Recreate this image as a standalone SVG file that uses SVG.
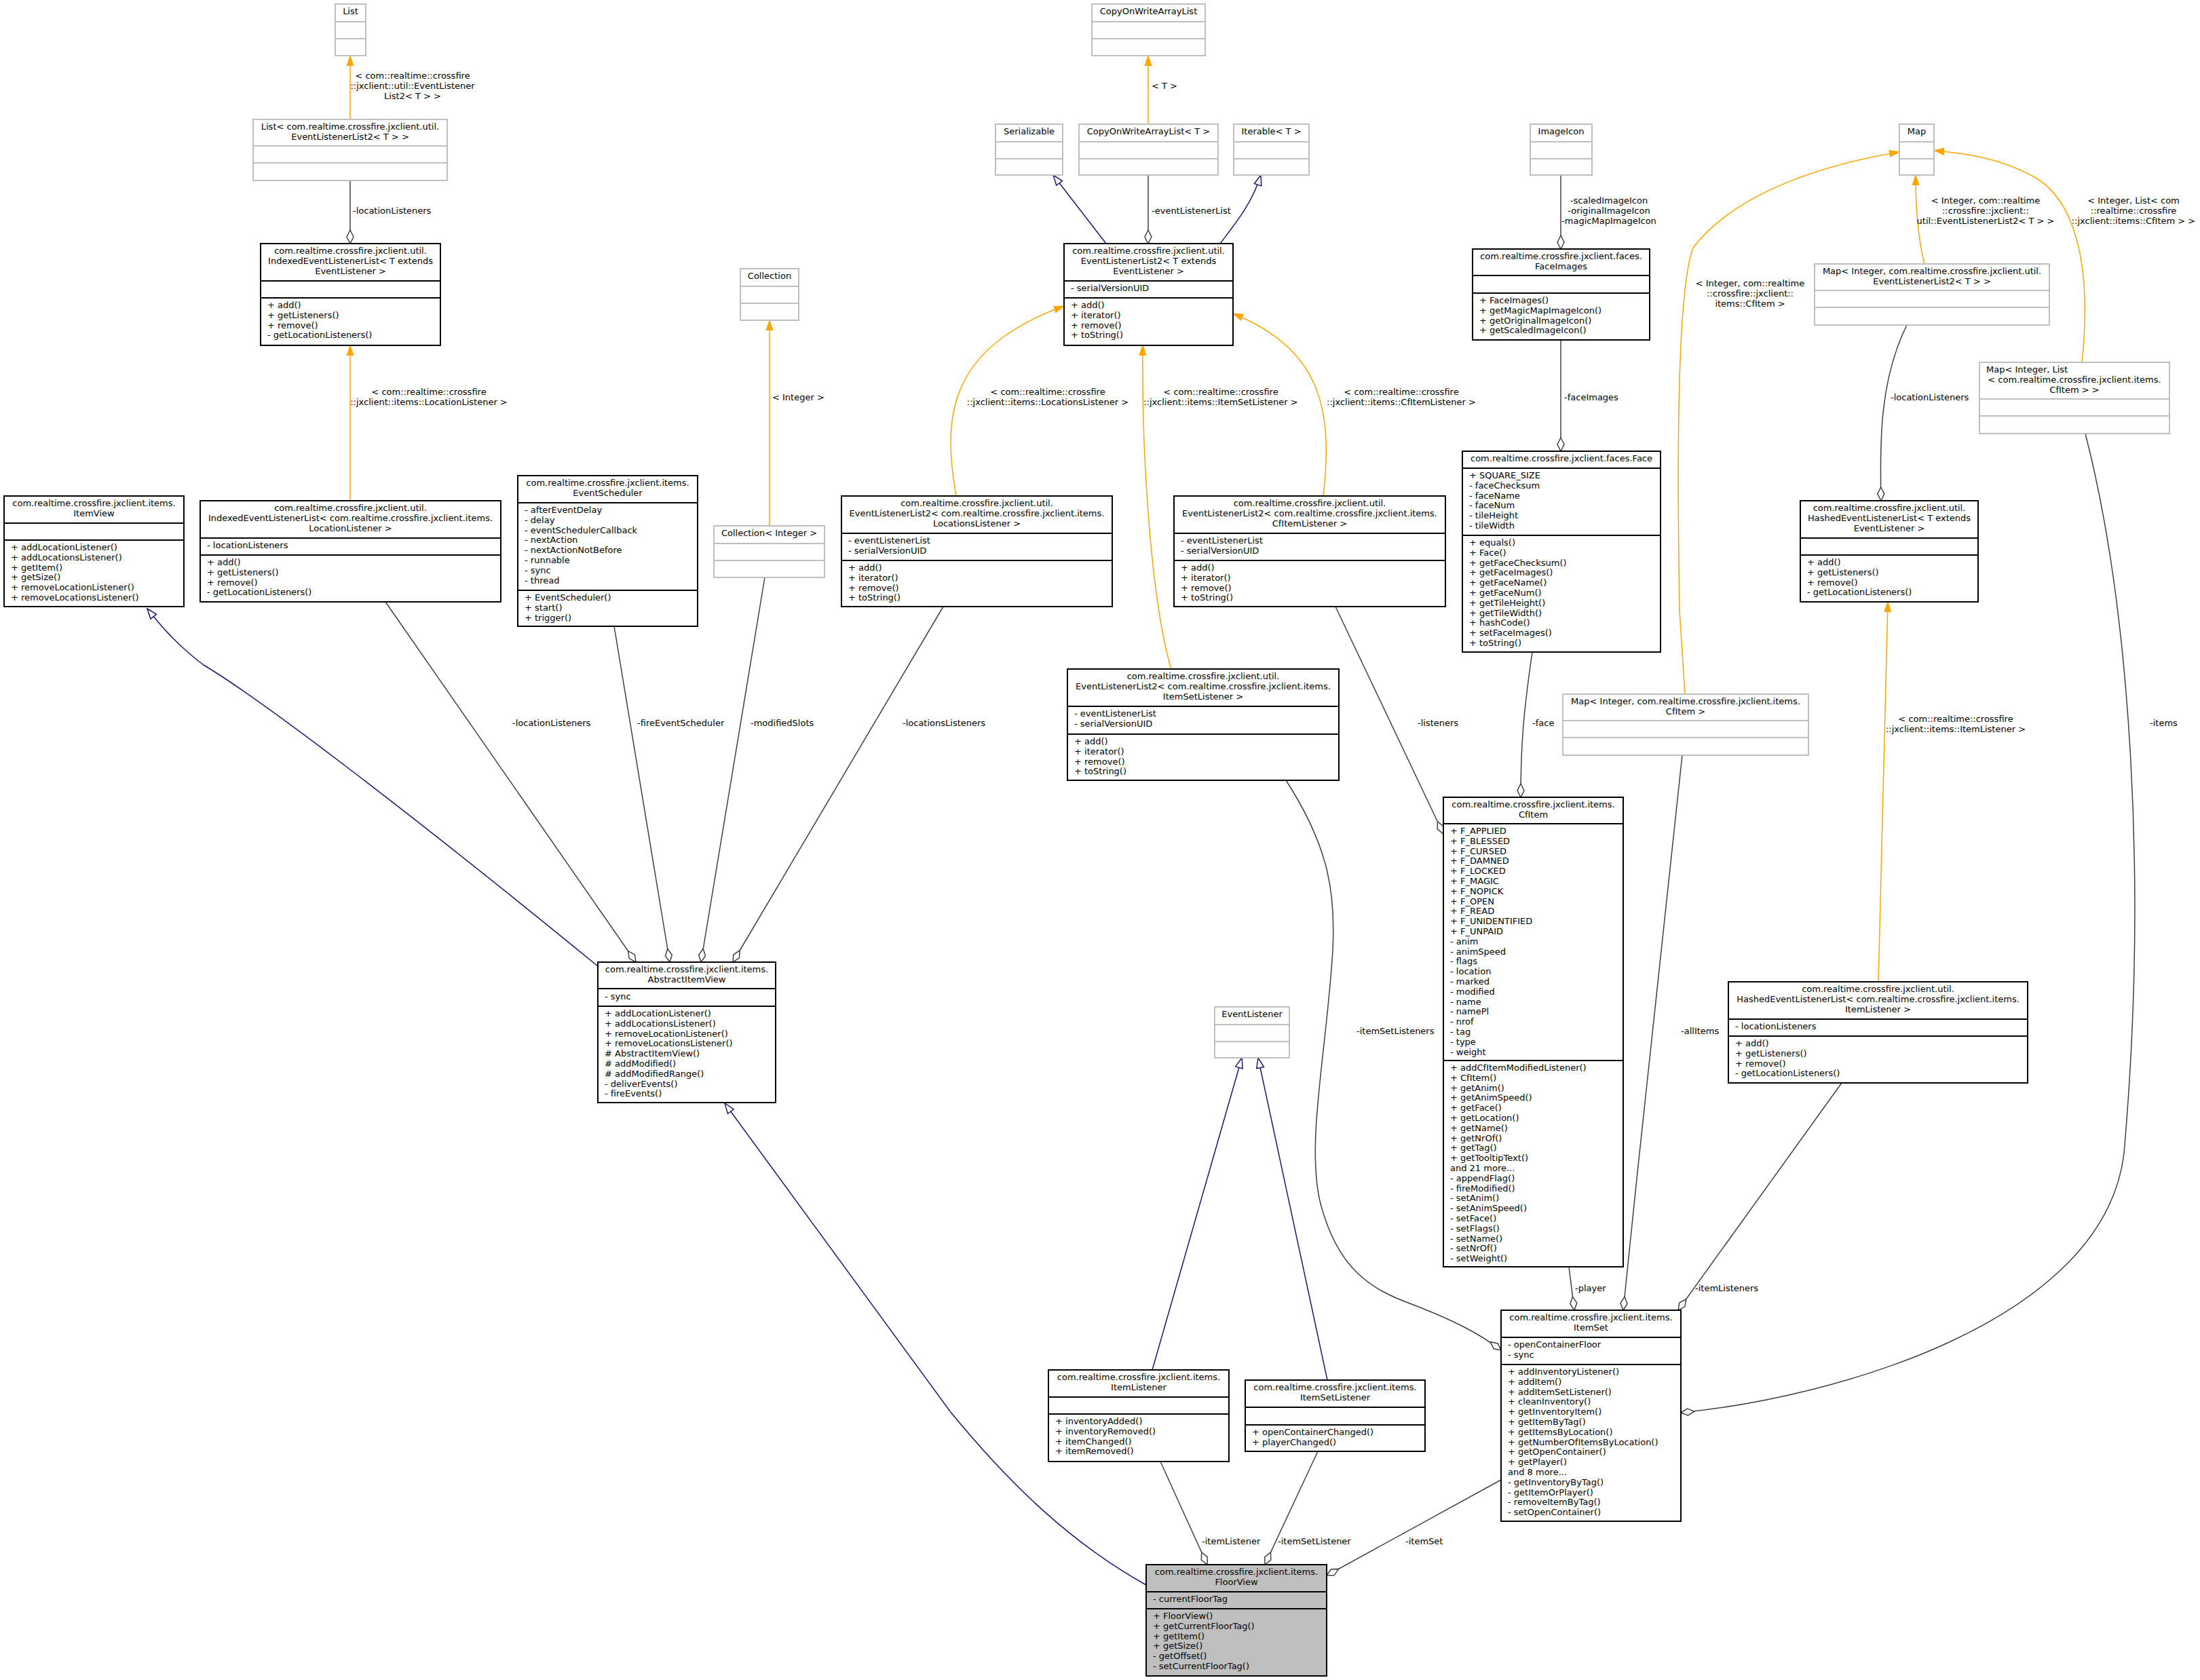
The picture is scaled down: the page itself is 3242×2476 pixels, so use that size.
<svg xmlns="http://www.w3.org/2000/svg" width="3242" height="2476" viewBox="0 0 3242 2476">
<style>
text{font-family:"DejaVu Sans","Liberation Sans",sans-serif;font-size:13px;fill:#000}
.c{text-anchor:middle}
.b{fill:#fff;stroke:#000;stroke-width:2}
.g{fill:#fff;stroke:#bfbfbf;stroke-width:2}
.f{fill:#bfbfbf;stroke:#000;stroke-width:2}
.sb{stroke:#000;stroke-width:2}
.sg{stroke:#bfbfbf;stroke-width:2}
.ag{fill:none;stroke:#404040;stroke-width:1.5;marker-end:url(#dia)}
.or{fill:none;stroke:#ffa500;stroke-width:1.5;marker-end:url(#oa)}
.bl{fill:none;stroke:#191970;stroke-width:1.5;marker-end:url(#ba)}
</style>
<defs>
<marker id="dia" markerUnits="userSpaceOnUse" markerWidth="22" markerHeight="12" viewBox="0 0 22 12" refX="21" refY="6" orient="auto"><path d="M1,6 L11,1 L21,6 L11,11 Z" fill="#fff" stroke="#404040" stroke-width="1.5"/></marker>
<marker id="oa" markerUnits="userSpaceOnUse" markerWidth="16" markerHeight="12" viewBox="0 0 16 12" refX="15" refY="6" orient="auto"><path d="M0,1 L15,6 L0,11 Z" fill="#ffa500" stroke="#ffa500"/></marker>
<marker id="ba" markerUnits="userSpaceOnUse" markerWidth="17" markerHeight="13" viewBox="0 0 17 13" refX="16" refY="6.5" orient="auto"><path d="M1,1 L16,6.5 L1,12 Z" fill="#fff" stroke="#191970" stroke-width="1.5"/></marker>
</defs>

<g id="edges">
<path class="or" d="M516,176 L516,82"/>
<path class="ag" d="M516,266 L516,359"/>
<path class="or" d="M516,738 L516,509"/>
<path class="or" d="M1134,775 L1134,472"/>
<path class="or" d="M1692,183 L1692,82"/>
<path class="bl" d="M1630,359 L1552,258"/>
<path class="ag" d="M1692,258 L1692,359"/>
<path class="bl" d="M1798,359 C1820,330 1845,300 1858,258"/>
<path class="or" d="M1409,731 C1390,620 1392,515 1568,451"/>
<path class="or" d="M1950,731 C1965,600 1945,515 1817,462"/>
<path class="or" d="M1726,986 C1700,900 1682,700 1684,509"/>
<path class="ag" d="M2300,258 L2300,367"/>
<path class="ag" d="M2300,501 L2300,665"/>
<path class="or" d="M2836,389 C2826,350 2823,300 2823,258"/>
<path class="or" d="M3068,534 C3082,400 3062,300 3000,262 C2950,234 2900,226 2850,222"/>
<path class="ag" d="M2810,479 C2770,560 2770,650 2772,738"/>
<path class="or" d="M2483,1023 L2475,900 C2470,600 2475,420 2495,365 C2560,280 2700,240 2799,224"/>
<path class="or" d="M2768,1447 L2782,887"/>
<path class="ag" d="M2258,961 C2245,1050 2241,1100 2241,1175"/>
<path class="ag" d="M1968,894 L2127,1229"/>
<path class="bl" d="M881,1424 C650,1235 400,1040 300,980 C260,950 235,920 217,897"/>
<path class="ag" d="M568,887 L937,1418"/>
<path class="ag" d="M905,923 L987,1418"/>
<path class="ag" d="M1127,851 L1033,1418"/>
<path class="ag" d="M1390,894 L1080,1418"/>
<path class="bl" d="M1689,2336 C1580,2275 1490,2190 1400,2080 L1068,1626"/>
<path class="bl" d="M1698,2019 L1830,1559"/>
<path class="bl" d="M1956,2034 L1854,1559"/>
<path class="ag" d="M1710,2154 L1779,2306"/>
<path class="ag" d="M1942,2139 L1864,2306"/>
<path class="ag" d="M2212,2181 L1955,2322"/>
<path class="ag" d="M1895,1150 C1960,1250 1968,1320 1964,1400 C1955,1550 1925,1680 1945,1770 C1970,1870 2020,1900 2080,1922 C2140,1945 2180,1965 2212,1990"/>
<path class="ag" d="M2312,1867 L2320,1931"/>
<path class="ag" d="M2479,1113 C2455,1350 2420,1650 2392,1931"/>
<path class="ag" d="M2714,1596 L2473,1931"/>
<path class="ag" d="M3073,639 C3140,900 3165,1300 3130,1700 C3100,1950 2700,2060 2477,2082"/>
<text x="608" y="116" class="c">&lt; com::realtime::crossfire</text>
<text x="608" y="131" class="c">::jxclient::util::EventListener</text>
<text x="608" y="146" class="c">List2&lt; T &gt; &gt;</text>
<text x="520" y="315">-locationListeners</text>
<text x="632" y="582" class="c">&lt; com::realtime::crossfire</text>
<text x="632" y="597" class="c">::jxclient::items::LocationListener &gt;</text>
<text x="1138" y="590">&lt; Integer &gt;</text>
<text x="1697" y="131">&lt; T &gt;</text>
<text x="1697" y="315">-eventListenerList</text>
<text x="1544" y="582" class="c">&lt; com::realtime::crossfire</text>
<text x="1544" y="597" class="c">::jxclient::items::LocationsListener &gt;</text>
<text x="1799" y="582" class="c">&lt; com::realtime::crossfire</text>
<text x="1799" y="597" class="c">::jxclient::items::ItemSetListener &gt;</text>
<text x="2065" y="582" class="c">&lt; com::realtime::crossfire</text>
<text x="2065" y="597" class="c">::jxclient::items::CfItemListener &gt;</text>
<text x="2371" y="300" class="c">-scaledImageIcon</text>
<text x="2371" y="315" class="c">-originalImageIcon</text>
<text x="2371" y="330" class="c">-magicMapImageIcon</text>
<text x="2305" y="590">-faceImages</text>
<text x="2926" y="300" class="c">&lt; Integer, com::realtime</text>
<text x="2926" y="315" class="c">::crossfire::jxclient::</text>
<text x="2926" y="330" class="c">util::EventListenerList2&lt; T &gt; &gt;</text>
<text x="3144" y="300" class="c">&lt; Integer, List&lt; com</text>
<text x="3144" y="315" class="c">::realtime::crossfire</text>
<text x="3144" y="330" class="c">::jxclient::items::CfItem &gt; &gt;</text>
<text x="2579" y="422" class="c">&lt; Integer, com::realtime</text>
<text x="2579" y="437" class="c">::crossfire::jxclient::</text>
<text x="2579" y="452" class="c">items::CfItem &gt;</text>
<text x="2786" y="590">-locationListeners</text>
<text x="2089" y="1070">-listeners</text>
<text x="2258" y="1070">-face</text>
<text x="3168" y="1070">-items</text>
<text x="2882" y="1064" class="c">&lt; com::realtime::crossfire</text>
<text x="2882" y="1079" class="c">::jxclient::items::ItemListener &gt;</text>
<text x="755" y="1070">-locationListeners</text>
<text x="939" y="1070">-fireEventScheduler</text>
<text x="1106" y="1070">-modifiedSlots</text>
<text x="1330" y="1070">-locationsListeners</text>
<text x="1999" y="1524">-itemSetListeners</text>
<text x="2477" y="1524">-allItems</text>
<text x="2321" y="1903">-player</text>
<text x="2498" y="1903">-itemListeners</text>
<text x="1771" y="2276">-itemListener</text>
<text x="1883" y="2276">-itemSetListener</text>
<text x="2071" y="2276">-itemSet</text>
</g>

<g id="List"><rect class="g" x="494" y="6" width="45" height="76"/><line class="sg" x1="494" y1="32" x2="539" y2="32"/><line class="sg" x1="494" y1="57" x2="539" y2="57"/><text class="c" x="516.5" y="21">List</text></g>

<g id="ListELL2"><rect class="g" x="373" y="176" width="286" height="90"/><line class="sg" x1="373" y1="215" x2="659" y2="215"/><line class="sg" x1="373" y1="240" x2="659" y2="240"/><text class="c" x="516" y="191">List&lt; com.realtime.crossfire.jxclient.util.</text><text class="c" x="516" y="206">EventListenerList2&lt; T &gt; &gt;</text></g>

<g id="IELL"><rect class="b" x="384" y="359" width="265" height="150"/><line class="sb" x1="384" y1="414" x2="649" y2="414"/><line class="sb" x1="384" y1="439" x2="649" y2="439"/><text class="c" x="516.5" y="374">com.realtime.crossfire.jxclient.util.</text><text class="c" x="516.5" y="389">IndexedEventListenerList&lt; T extends</text><text class="c" x="516.5" y="404">EventListener &gt;</text><text x="394" y="454">+ add()<tspan x="394" dy="14.8">+ getListeners()</tspan><tspan x="394" dy="14.8">+ remove()</tspan><tspan x="394" dy="14.8">- getLocationListeners()</tspan></text></g>

<g id="IELLLoc"><rect class="b" x="295" y="738" width="443" height="149"/><line class="sb" x1="295" y1="793" x2="738" y2="793"/><line class="sb" x1="295" y1="818" x2="738" y2="818"/><text class="c" x="516.5" y="753">com.realtime.crossfire.jxclient.util.</text><text class="c" x="516.5" y="768">IndexedEventListenerList&lt; com.realtime.crossfire.jxclient.items.</text><text class="c" x="516.5" y="783">LocationListener &gt;</text><text x="305" y="808">- locationListeners</text><text x="305" y="833">+ add()<tspan x="305" dy="14.8">+ getListeners()</tspan><tspan x="305" dy="14.8">+ remove()</tspan><tspan x="305" dy="14.8">- getLocationListeners()</tspan></text></g>

<g id="ItemView"><rect class="b" x="6" y="731" width="265" height="163"/><line class="sb" x1="6" y1="771" x2="271" y2="771"/><line class="sb" x1="6" y1="796" x2="271" y2="796"/><text class="c" x="138.5" y="746">com.realtime.crossfire.jxclient.items.</text><text class="c" x="138.5" y="761">ItemView</text><text x="16" y="811">+ addLocationListener()<tspan x="16" dy="14.8">+ addLocationsListener()</tspan><tspan x="16" dy="14.8">+ getItem()</tspan><tspan x="16" dy="14.8">+ getSize()</tspan><tspan x="16" dy="14.8">+ removeLocationListener()</tspan><tspan x="16" dy="14.8">+ removeLocationsListener()</tspan></text></g>

<g id="EventScheduler"><rect class="b" x="763" y="701" width="265" height="222"/><line class="sb" x1="763" y1="741" x2="1028" y2="741"/><line class="sb" x1="763" y1="870" x2="1028" y2="870"/><text class="c" x="895.5" y="716">com.realtime.crossfire.jxclient.items.</text><text class="c" x="895.5" y="731">EventScheduler</text><text x="773" y="756">- afterEventDelay<tspan x="773" dy="14.8">- delay</tspan><tspan x="773" dy="14.8">- eventSchedulerCallback</tspan><tspan x="773" dy="14.8">- nextAction</tspan><tspan x="773" dy="14.8">- nextActionNotBefore</tspan><tspan x="773" dy="14.8">- runnable</tspan><tspan x="773" dy="14.8">- sync</tspan><tspan x="773" dy="14.8">- thread</tspan></text><text x="773" y="885">+ EventScheduler()<tspan x="773" dy="14.8">+ start()</tspan><tspan x="773" dy="14.8">+ trigger()</tspan></text></g>

<g id="Collection"><rect class="g" x="1091" y="396" width="86" height="76"/><line class="sg" x1="1091" y1="422" x2="1177" y2="422"/><line class="sg" x1="1091" y1="447" x2="1177" y2="447"/><text class="c" x="1134" y="411">Collection</text></g>

<g id="CollectionInteger"><rect class="g" x="1052" y="775" width="163" height="76"/><line class="sg" x1="1052" y1="801" x2="1215" y2="801"/><line class="sg" x1="1052" y1="826" x2="1215" y2="826"/><text class="c" x="1133.5" y="790">Collection&lt; Integer &gt;</text></g>

<g id="COWAL"><rect class="g" x="1609" y="6" width="167" height="76"/><line class="sg" x1="1609" y1="32" x2="1776" y2="32"/><line class="sg" x1="1609" y1="57" x2="1776" y2="57"/><text class="c" x="1692.5" y="21">CopyOnWriteArrayList</text></g>

<g id="Serializable"><rect class="g" x="1467" y="183" width="99" height="75"/><line class="sg" x1="1467" y1="209" x2="1566" y2="209"/><line class="sg" x1="1467" y1="234" x2="1566" y2="234"/><text class="c" x="1516.5" y="198">Serializable</text></g>

<g id="COWALT"><rect class="g" x="1590" y="183" width="205" height="75"/><line class="sg" x1="1590" y1="209" x2="1795" y2="209"/><line class="sg" x1="1590" y1="234" x2="1795" y2="234"/><text class="c" x="1692.5" y="198">CopyOnWriteArrayList&lt; T &gt;</text></g>

<g id="Iterable"><rect class="g" x="1818" y="183" width="111" height="75"/><line class="sg" x1="1818" y1="209" x2="1929" y2="209"/><line class="sg" x1="1818" y1="234" x2="1929" y2="234"/><text class="c" x="1873.5" y="198">Iterable&lt; T &gt;</text></g>

<g id="ELL2"><rect class="b" x="1568" y="359" width="249" height="150"/><line class="sb" x1="1568" y1="414" x2="1817" y2="414"/><line class="sb" x1="1568" y1="439" x2="1817" y2="439"/><text class="c" x="1692.5" y="374">com.realtime.crossfire.jxclient.util.</text><text class="c" x="1692.5" y="389">EventListenerList2&lt; T extends</text><text class="c" x="1692.5" y="404">EventListener &gt;</text><text x="1578" y="429">- serialVersionUID</text><text x="1578" y="454">+ add()<tspan x="1578" dy="14.8">+ iterator()</tspan><tspan x="1578" dy="14.8">+ remove()</tspan><tspan x="1578" dy="14.8">+ toString()</tspan></text></g>

<g id="ELL2Locations"><rect class="b" x="1240" y="731" width="399" height="163"/><line class="sb" x1="1240" y1="786" x2="1639" y2="786"/><line class="sb" x1="1240" y1="826" x2="1639" y2="826"/><text class="c" x="1439.5" y="746">com.realtime.crossfire.jxclient.util.</text><text class="c" x="1439.5" y="761">EventListenerList2&lt; com.realtime.crossfire.jxclient.items.</text><text class="c" x="1439.5" y="776">LocationsListener &gt;</text><text x="1250" y="801">- eventListenerList<tspan x="1250" dy="14.8">- serialVersionUID</tspan></text><text x="1250" y="841">+ add()<tspan x="1250" dy="14.8">+ iterator()</tspan><tspan x="1250" dy="14.8">+ remove()</tspan><tspan x="1250" dy="14.8">+ toString()</tspan></text></g>

<g id="ELL2CfItem"><rect class="b" x="1730" y="731" width="400" height="163"/><line class="sb" x1="1730" y1="786" x2="2130" y2="786"/><line class="sb" x1="1730" y1="826" x2="2130" y2="826"/><text class="c" x="1930" y="746">com.realtime.crossfire.jxclient.util.</text><text class="c" x="1930" y="761">EventListenerList2&lt; com.realtime.crossfire.jxclient.items.</text><text class="c" x="1930" y="776">CfItemListener &gt;</text><text x="1740" y="801">- eventListenerList<tspan x="1740" dy="14.8">- serialVersionUID</tspan></text><text x="1740" y="841">+ add()<tspan x="1740" dy="14.8">+ iterator()</tspan><tspan x="1740" dy="14.8">+ remove()</tspan><tspan x="1740" dy="14.8">+ toString()</tspan></text></g>

<g id="ELL2ItemSet"><rect class="b" x="1573" y="986" width="400" height="164"/><line class="sb" x1="1573" y1="1041" x2="1973" y2="1041"/><line class="sb" x1="1573" y1="1082" x2="1973" y2="1082"/><text class="c" x="1773" y="1001">com.realtime.crossfire.jxclient.util.</text><text class="c" x="1773" y="1016">EventListenerList2&lt; com.realtime.crossfire.jxclient.items.</text><text class="c" x="1773" y="1031">ItemSetListener &gt;</text><text x="1583" y="1056">- eventListenerList<tspan x="1583" dy="14.8">- serialVersionUID</tspan></text><text x="1583" y="1097">+ add()<tspan x="1583" dy="14.8">+ iterator()</tspan><tspan x="1583" dy="14.8">+ remove()</tspan><tspan x="1583" dy="14.8">+ toString()</tspan></text></g>

<g id="ImageIcon"><rect class="g" x="2255" y="183" width="91" height="75"/><line class="sg" x1="2255" y1="209" x2="2346" y2="209"/><line class="sg" x1="2255" y1="234" x2="2346" y2="234"/><text class="c" x="2300.5" y="198">ImageIcon</text></g>

<g id="FaceImages"><rect class="b" x="2170" y="367" width="261" height="134"/><line class="sb" x1="2170" y1="406" x2="2431" y2="406"/><line class="sb" x1="2170" y1="432" x2="2431" y2="432"/><text class="c" x="2300.5" y="382">com.realtime.crossfire.jxclient.faces.</text><text class="c" x="2300.5" y="397">FaceImages</text><text x="2180" y="447">+ FaceImages()<tspan x="2180" dy="14.8">+ getMagicMapImageIcon()</tspan><tspan x="2180" dy="14.8">+ getOriginalImageIcon()</tspan><tspan x="2180" dy="14.8">+ getScaledImageIcon()</tspan></text></g>

<g id="Face"><rect class="b" x="2155" y="665" width="292" height="296"/><line class="sb" x1="2155" y1="690" x2="2447" y2="690"/><line class="sb" x1="2155" y1="789" x2="2447" y2="789"/><text class="c" x="2301" y="680">com.realtime.crossfire.jxclient.faces.Face</text><text x="2165" y="705">+ SQUARE_SIZE<tspan x="2165" dy="14.8">- faceChecksum</tspan><tspan x="2165" dy="14.8">- faceName</tspan><tspan x="2165" dy="14.8">- faceNum</tspan><tspan x="2165" dy="14.8">- tileHeight</tspan><tspan x="2165" dy="14.8">- tileWidth</tspan></text><text x="2165" y="804">+ equals()<tspan x="2165" dy="14.8">+ Face()</tspan><tspan x="2165" dy="14.8">+ getFaceChecksum()</tspan><tspan x="2165" dy="14.8">+ getFaceImages()</tspan><tspan x="2165" dy="14.8">+ getFaceName()</tspan><tspan x="2165" dy="14.8">+ getFaceNum()</tspan><tspan x="2165" dy="14.8">+ getTileHeight()</tspan><tspan x="2165" dy="14.8">+ getTileWidth()</tspan><tspan x="2165" dy="14.8">+ hashCode()</tspan><tspan x="2165" dy="14.8">+ setFaceImages()</tspan><tspan x="2165" dy="14.8">+ toString()</tspan></text></g>

<g id="Map"><rect class="g" x="2799" y="183" width="51" height="75"/><line class="sg" x1="2799" y1="209" x2="2850" y2="209"/><line class="sg" x1="2799" y1="234" x2="2850" y2="234"/><text class="c" x="2824.5" y="198">Map</text></g>

<g id="MapELL2"><rect class="g" x="2674" y="389" width="346" height="90"/><line class="sg" x1="2674" y1="428" x2="3020" y2="428"/><line class="sg" x1="2674" y1="453" x2="3020" y2="453"/><text class="c" x="2847" y="404">Map&lt; Integer, com.realtime.crossfire.jxclient.util.</text><text class="c" x="2847" y="419">EventListenerList2&lt; T &gt; &gt;</text></g>

<g id="MapListCfItem"><rect class="g" x="2917" y="534" width="280" height="105"/><line class="sg" x1="2917" y1="588" x2="3197" y2="588"/><line class="sg" x1="2917" y1="613" x2="3197" y2="613"/><text x="2927" y="549">Map&lt; Integer, List</text><text class="c" x="3057" y="564">&lt; com.realtime.crossfire.jxclient.items.</text><text class="c" x="3057" y="579">CfItem &gt; &gt;</text></g>

<g id="HashedELL"><rect class="b" x="2653" y="738" width="262" height="149"/><line class="sb" x1="2653" y1="793" x2="2915" y2="793"/><line class="sb" x1="2653" y1="818" x2="2915" y2="818"/><text class="c" x="2784" y="753">com.realtime.crossfire.jxclient.util.</text><text class="c" x="2784" y="768">HashedEventListenerList&lt; T extends</text><text class="c" x="2784" y="783">EventListener &gt;</text><text x="2663" y="833">+ add()<tspan x="2663" dy="14.8">+ getListeners()</tspan><tspan x="2663" dy="14.8">+ remove()</tspan><tspan x="2663" dy="14.8">- getLocationListeners()</tspan></text></g>

<g id="MapCfItem"><rect class="g" x="2303" y="1023" width="362" height="90"/><line class="sg" x1="2303" y1="1062" x2="2665" y2="1062"/><line class="sg" x1="2303" y1="1087" x2="2665" y2="1087"/><text class="c" x="2484" y="1038">Map&lt; Integer, com.realtime.crossfire.jxclient.items.</text><text class="c" x="2484" y="1053">CfItem &gt;</text></g>

<g id="HashedELLItem"><rect class="b" x="2547" y="1447" width="441" height="149"/><line class="sb" x1="2547" y1="1502" x2="2988" y2="1502"/><line class="sb" x1="2547" y1="1527" x2="2988" y2="1527"/><text class="c" x="2767.5" y="1462">com.realtime.crossfire.jxclient.util.</text><text class="c" x="2767.5" y="1477">HashedEventListenerList&lt; com.realtime.crossfire.jxclient.items.</text><text class="c" x="2767.5" y="1492">ItemListener &gt;</text><text x="2557" y="1517">- locationListeners</text><text x="2557" y="1542">+ add()<tspan x="2557" dy="14.8">+ getListeners()</tspan><tspan x="2557" dy="14.8">+ remove()</tspan><tspan x="2557" dy="14.8">- getLocationListeners()</tspan></text></g>

<g id="CfItem"><rect class="b" x="2127" y="1175" width="265" height="692"/><line class="sb" x1="2127" y1="1214" x2="2392" y2="1214"/><line class="sb" x1="2127" y1="1563" x2="2392" y2="1563"/><text class="c" x="2259.5" y="1190">com.realtime.crossfire.jxclient.items.</text><text class="c" x="2259.5" y="1205">CfItem</text><text x="2137" y="1229">+ F_APPLIED<tspan x="2137" dy="14.8">+ F_BLESSED</tspan><tspan x="2137" dy="14.8">+ F_CURSED</tspan><tspan x="2137" dy="14.8">+ F_DAMNED</tspan><tspan x="2137" dy="14.8">+ F_LOCKED</tspan><tspan x="2137" dy="14.8">+ F_MAGIC</tspan><tspan x="2137" dy="14.8">+ F_NOPICK</tspan><tspan x="2137" dy="14.8">+ F_OPEN</tspan><tspan x="2137" dy="14.8">+ F_READ</tspan><tspan x="2137" dy="14.8">+ F_UNIDENTIFIED</tspan><tspan x="2137" dy="14.8">+ F_UNPAID</tspan><tspan x="2137" dy="14.8">- anim</tspan><tspan x="2137" dy="14.8">- animSpeed</tspan><tspan x="2137" dy="14.8">- flags</tspan><tspan x="2137" dy="14.8">- location</tspan><tspan x="2137" dy="14.8">- marked</tspan><tspan x="2137" dy="14.8">- modified</tspan><tspan x="2137" dy="14.8">- name</tspan><tspan x="2137" dy="14.8">- namePl</tspan><tspan x="2137" dy="14.8">- nrof</tspan><tspan x="2137" dy="14.8">- tag</tspan><tspan x="2137" dy="14.8">- type</tspan><tspan x="2137" dy="14.8">- weight</tspan></text><text x="2137" y="1578">+ addCfItemModifiedListener()<tspan x="2137" dy="14.8">+ CfItem()</tspan><tspan x="2137" dy="14.8">+ getAnim()</tspan><tspan x="2137" dy="14.8">+ getAnimSpeed()</tspan><tspan x="2137" dy="14.8">+ getFace()</tspan><tspan x="2137" dy="14.8">+ getLocation()</tspan><tspan x="2137" dy="14.8">+ getName()</tspan><tspan x="2137" dy="14.8">+ getNrOf()</tspan><tspan x="2137" dy="14.8">+ getTag()</tspan><tspan x="2137" dy="14.8">+ getTooltipText()</tspan><tspan x="2137" dy="14.8">and 21 more...</tspan><tspan x="2137" dy="14.8">- appendFlag()</tspan><tspan x="2137" dy="14.8">- fireModified()</tspan><tspan x="2137" dy="14.8">- setAnim()</tspan><tspan x="2137" dy="14.8">- setAnimSpeed()</tspan><tspan x="2137" dy="14.8">- setFace()</tspan><tspan x="2137" dy="14.8">- setFlags()</tspan><tspan x="2137" dy="14.8">- setName()</tspan><tspan x="2137" dy="14.8">- setNrOf()</tspan><tspan x="2137" dy="14.8">- setWeight()</tspan></text></g>

<g id="ItemSet"><rect class="b" x="2212" y="1931" width="265" height="311"/><line class="sb" x1="2212" y1="1971" x2="2477" y2="1971"/><line class="sb" x1="2212" y1="2011" x2="2477" y2="2011"/><text class="c" x="2344.5" y="1946">com.realtime.crossfire.jxclient.items.</text><text class="c" x="2344.5" y="1961">ItemSet</text><text x="2222" y="1986">- openContainerFloor<tspan x="2222" dy="14.8">- sync</tspan></text><text x="2222" y="2026">+ addInventoryListener()<tspan x="2222" dy="14.8">+ addItem()</tspan><tspan x="2222" dy="14.8">+ addItemSetListener()</tspan><tspan x="2222" dy="14.8">+ cleanInventory()</tspan><tspan x="2222" dy="14.8">+ getInventoryItem()</tspan><tspan x="2222" dy="14.8">+ getItemByTag()</tspan><tspan x="2222" dy="14.8">+ getItemsByLocation()</tspan><tspan x="2222" dy="14.8">+ getNumberOfItemsByLocation()</tspan><tspan x="2222" dy="14.8">+ getOpenContainer()</tspan><tspan x="2222" dy="14.8">+ getPlayer()</tspan><tspan x="2222" dy="14.8">and 8 more...</tspan><tspan x="2222" dy="14.8">- getInventoryByTag()</tspan><tspan x="2222" dy="14.8">- getItemOrPlayer()</tspan><tspan x="2222" dy="14.8">- removeItemByTag()</tspan><tspan x="2222" dy="14.8">- setOpenContainer()</tspan></text></g>

<g id="ItemListener"><rect class="b" x="1545" y="2019" width="266" height="135"/><line class="sb" x1="1545" y1="2059" x2="1811" y2="2059"/><line class="sb" x1="1545" y1="2084" x2="1811" y2="2084"/><text class="c" x="1678" y="2034">com.realtime.crossfire.jxclient.items.</text><text class="c" x="1678" y="2049">ItemListener</text><text x="1555" y="2099">+ inventoryAdded()<tspan x="1555" dy="14.8">+ inventoryRemoved()</tspan><tspan x="1555" dy="14.8">+ itemChanged()</tspan><tspan x="1555" dy="14.8">+ itemRemoved()</tspan></text></g>

<g id="ItemSetListener"><rect class="b" x="1835" y="2034" width="265" height="105"/><line class="sb" x1="1835" y1="2074" x2="2100" y2="2074"/><line class="sb" x1="1835" y1="2100" x2="2100" y2="2100"/><text class="c" x="1967.5" y="2049">com.realtime.crossfire.jxclient.items.</text><text class="c" x="1967.5" y="2064">ItemSetListener</text><text x="1845" y="2115">+ openContainerChanged()<tspan x="1845" dy="14.8">+ playerChanged()</tspan></text></g>

<g id="FloorView"><rect class="f" x="1689" y="2306" width="266" height="164"/><line class="sb" x1="1689" y1="2346" x2="1955" y2="2346"/><line class="sb" x1="1689" y1="2371" x2="1955" y2="2371"/><text class="c" x="1822" y="2321">com.realtime.crossfire.jxclient.items.</text><text class="c" x="1822" y="2336">FloorView</text><text x="1699" y="2361">- currentFloorTag</text><text x="1699" y="2386">+ FloorView()<tspan x="1699" dy="14.8">+ getCurrentFloorTag()</tspan><tspan x="1699" dy="14.8">+ getItem()</tspan><tspan x="1699" dy="14.8">+ getSize()</tspan><tspan x="1699" dy="14.8">- getOffset()</tspan><tspan x="1699" dy="14.8">- setCurrentFloorTag()</tspan></text></g>

<g id="AbstractItemView"><rect class="b" x="881" y="1418" width="262" height="207"/><line class="sb" x1="881" y1="1457" x2="1143" y2="1457"/><line class="sb" x1="881" y1="1483" x2="1143" y2="1483"/><text class="c" x="1012" y="1433">com.realtime.crossfire.jxclient.items.</text><text class="c" x="1012" y="1448">AbstractItemView</text><text x="891" y="1473">- sync</text><text x="891" y="1498">+ addLocationListener()<tspan x="891" dy="14.8">+ addLocationsListener()</tspan><tspan x="891" dy="14.8">+ removeLocationListener()</tspan><tspan x="891" dy="14.8">+ removeLocationsListener()</tspan><tspan x="891" dy="14.8"># AbstractItemView()</tspan><tspan x="891" dy="14.8"># addModified()</tspan><tspan x="891" dy="14.8"># addModifiedRange()</tspan><tspan x="891" dy="14.8">- deliverEvents()</tspan><tspan x="891" dy="14.8">- fireEvents()</tspan></text></g>

<g id="EventListener"><rect class="g" x="1790" y="1484" width="110" height="75"/><line class="sg" x1="1790" y1="1510" x2="1900" y2="1510"/><line class="sg" x1="1790" y1="1535" x2="1900" y2="1535"/><text class="c" x="1845" y="1499">EventListener</text></g>
</svg>
